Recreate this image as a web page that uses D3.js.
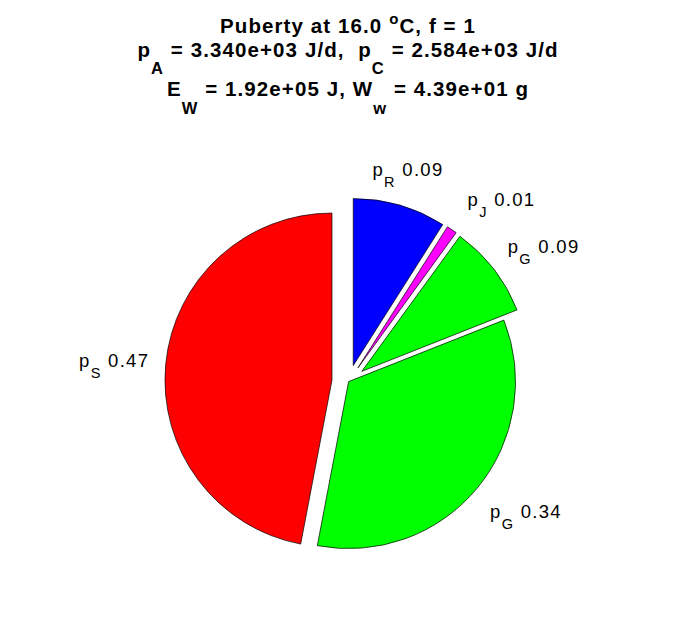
<!DOCTYPE html>
<html><head><meta charset="utf-8">
<script src="https://cdn.jsdelivr.net/npm/d3@7"></script>
<style>
body{margin:0;background:#fff}
svg{display:block}
text{font-family:"Liberation Sans",Arial,Helvetica,sans-serif;white-space:pre}
</style>
</head><body>
<svg id="chart" width="696" height="618"></svg>
<script>
// ---- data ----
const sliceSubs    = ["R", "J", "G", "G", "S"];          // label subscripts (clockwise from top)
const sliceValues  = [0.09, 0.01, 0.09, 0.34, 0.47];
const sliceColors  = ["#0000ff", "#ff00ff", "#00ff00", "#00ff00", "#ff0000"];
const sliceExplode = [1, 1, 1, 0, 1];
const titleLine1 = [["Puberty at 16.0 ", "n"], ["o", "sup"], ["C, f = 1", "n"]];
const titleLine2 = [["p", "n"], ["A", "sub"], [" = 3.340e+03 J/d,  p", "n"], ["C", "sub"], [" = 2.584e+03 J/d", "n"]];
const titleLine3 = [["E", "n"], ["W", "sub"], [" = 1.92e+05 J, W", "n"], ["w", "sub"], [" = 4.39e+01 g", "n"]];

// ---- layout ----
const cx = 348.6, cy = 381.6;
const rScale = d3.scaleLinear().domain([0, 1]).range([0, 167]);
const svg = d3.select("#chart");

// title
function richText(g, parts, x, y, size, subSize, subDy, supDy) {
  const t = g.append("text").attr("x", x).attr("y", y)
    .attr("text-anchor", "middle").attr("font-size", size)
    .attr("font-weight", "bold").attr("fill", "#000")
    .attr("letter-spacing", 1.1);
  let cur = 0;
  parts.forEach(([s, type]) => {
    const target = type === "sub" ? subDy : type === "sup" ? -supDy : 0;
    const ts = t.append("tspan").text(s).attr("dy", target - cur);
    if (type !== "n") ts.attr("font-size", subSize);
    cur = target;
  });
  return t;
}
const tg = svg.append("g");
richText(tg, titleLine1, 348, 33.3, 20.5, 15, 0, 9);
richText(tg, titleLine2, 348, 57, 20.5, 16.5, 17, 0);
richText(tg, titleLine3, 348, 96, 20.5, 16.5, 18, 0);

// pie
const pie = d3.pie().sort(null).value(d => d).startAngle(0).endAngle(2 * Math.PI);
const arcs = pie(sliceValues);
const arc = d3.arc().innerRadius(0).outerRadius(rScale(1));
const pg = svg.append("g");

const labelInfo = [];
arcs.forEach((a, i) => {
  const mid = (a.startAngle + a.endAngle) / 2;
  const dx = Math.sin(mid), dy = -Math.cos(mid);
  const off = sliceExplode[i] ? rScale(0.1) : 0;
  const ox = cx + dx * off, oy = cy + dy * off;
  pg.append("path")
    .attr("d", arc(a))
    .attr("transform", `translate(${ox},${oy})`)
    .attr("fill", sliceColors[i])
    .attr("stroke", "#000")
    .attr("stroke-width", 0.7)
    .attr("stroke-linejoin", "round");
  labelInfo.push({x: ox + dx * rScale(1.34) + 5, y: oy + dy * rScale(1.22), i});
});

// labels
const lg = svg.append("g");
labelInfo.forEach(L => {
  const t = lg.append("text").attr("text-anchor", "middle").attr("font-size", 18.5)
    .attr("letter-spacing", 1.3).attr("fill", "#000");
  t.append("tspan").text("p");
  t.append("tspan").text(sliceSubs[L.i]).attr("font-size", 14.5).attr("dy", 11);
  t.append("tspan").text(" " + sliceValues[L.i].toFixed(2)).attr("dy", -11);
  L.w = t.node().getComputedTextLength();
  L.el = t;
});
// simple overlap relaxation between neighbouring labels
const minGap = 24;
for (let a = 0; a < labelInfo.length; a++) {
  for (let b = a + 1; b < labelInfo.length; b++) {
    const A = labelInfo[a], B = labelInfo[b];
    if (Math.abs(A.y - B.y) < 40) {
      const gap = Math.abs(B.x - A.x) - (A.w + B.w) / 2;
      if (gap < minGap) {
        const push = (minGap - gap) / 2, s = B.x >= A.x ? 1 : -1;
        A.x -= s * push; B.x += s * push;
      }
    }
  }
}
labelInfo.forEach(L => L.el.attr("x", L.x).attr("y", L.y + 6.5));
</script>
</body></html>
